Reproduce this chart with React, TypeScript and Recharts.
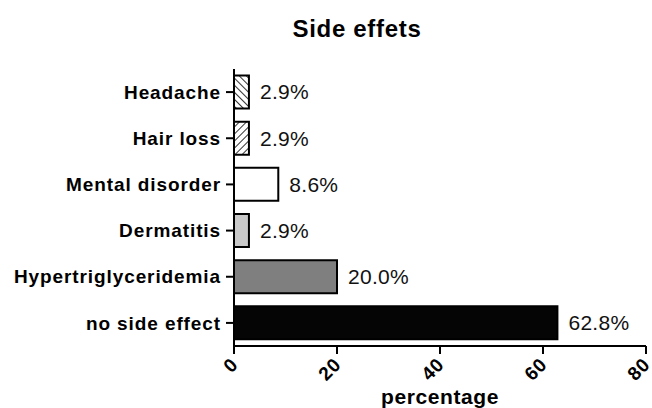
import { BarChart, Bar, XAxis, YAxis, Cell, LabelList } from "recharts";

const categories = ["Headache", "Hair loss", "Mental disorder", "Dermatitis", "Hypertriglyceridemia", "no side effect"];
const percentages = [2.9, 2.9, 8.6, 2.9, 20.0, 62.8];
const fills = ["url(#hatchBack)", "url(#hatchFwd)", "#ffffff", "#c9c9c9", "#7f7f7f", "#050505"];
const xTicks = [0, 20, 40, 60, 80];

const data = categories.map((name, i) => ({ name, value: percentages[i], fill: fills[i] }));

const font = "'Liberation Sans', Arial, sans-serif";

function XTick({ x, y, payload }: any) {
  return (
    <text
      x={x + 5}
      y={y + 10}
      transform={`rotate(-45, ${x + 5}, ${y + 10})`}
      textAnchor="end"
      fontFamily={font}
      fontWeight="bold"
      fontSize={19}
      letterSpacing={0.5}
      fill="#000"
    >
      {payload.value}
    </text>
  );
}

export default function App() {
  return (
    <div style={{ position: "absolute", left: 0, top: 0, width: 652, height: 408, background: "#fff", fontFamily: font, overflow: "hidden" }}>
      <svg width={0} height={0} style={{ position: "absolute" }}>
        <defs>
          <pattern id="hatchBack" width={5} height={5} patternUnits="userSpaceOnUse" patternTransform="rotate(-45)">
            <rect width={5} height={5} fill="#fff" />
            <line x1={0} y1={0} x2={0} y2={5} stroke="#000" strokeWidth={1.6} />
          </pattern>
          <pattern id="hatchFwd" width={5} height={5} patternUnits="userSpaceOnUse" patternTransform="rotate(45)">
            <rect width={5} height={5} fill="#fff" />
            <line x1={0} y1={0} x2={0} y2={5} stroke="#000" strokeWidth={1.6} />
          </pattern>
        </defs>
      </svg>
      <div
        style={{
          position: "absolute",
          left: 257,
          top: 15,
          width: 200,
          textAlign: "center",
          fontSize: 24,
          fontWeight: "bold",
          letterSpacing: 0.7,
          lineHeight: "28px",
        }}
      >
        Side effets
      </div>
      <div
        style={{
          position: "absolute",
          left: 340,
          top: 385,
          width: 200,
          textAlign: "center",
          fontSize: 21,
          fontWeight: "bold",
          letterSpacing: 0.6,
          lineHeight: "24px",
        }}
      >
        percentage
      </div>
      <BarChart
        width={652}
        height={408}
        data={data}
        layout="vertical"
        margin={{ top: 69, right: 6, bottom: 0, left: 0 }}
        barCategoryGap="14%"
      >
        <XAxis
          type="number"
          domain={[0, 80]}
          ticks={xTicks}
          interval={0}
          tick={<XTick />}
          tickSize={8}
          axisLine={{ stroke: "#000", strokeWidth: 2 }}
          tickLine={{ stroke: "#000", strokeWidth: 2 }}
          height={62}
        />
        <YAxis
          type="category"
          dataKey="name"
          width={234}
          tickSize={8}
          tickMargin={5}
          interval={0}
          axisLine={{ stroke: "#000", strokeWidth: 2 }}
          tickLine={{ stroke: "#000", strokeWidth: 2 }}
          tick={{ fontFamily: font, fontWeight: "bold", fontSize: 19, letterSpacing: 0.9, fill: "#000" }}
        />
        <Bar dataKey="value" stroke="#000" strokeWidth={2} isAnimationActive={false}>
          {data.map((d, i) => (
            <Cell key={i} fill={d.fill} />
          ))}
          <LabelList
            dataKey="value"
            position="right"
            offset={11}
            formatter={(v: any) => `${Number(v).toFixed(1)}%`}
            style={{ fontFamily: font, fontSize: 21, letterSpacing: 0.3, fill: "#111" }}
          />
        </Bar>
      </BarChart>
    </div>
  );
}
